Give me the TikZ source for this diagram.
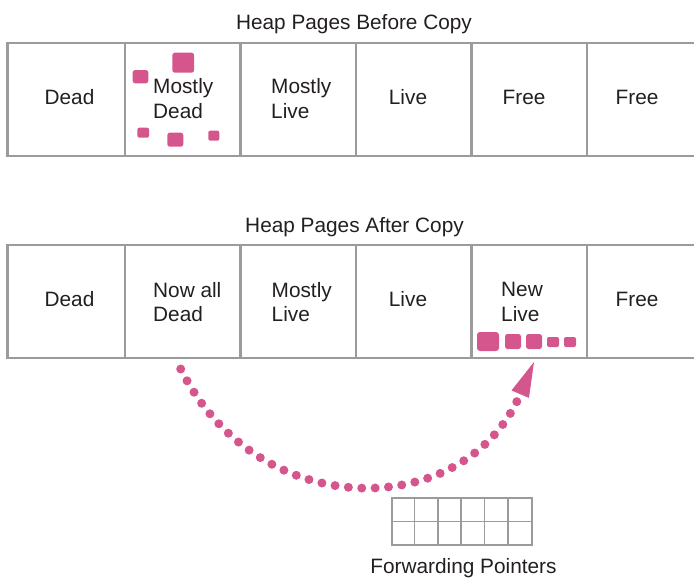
\documentclass[tikz,border=0pt]{standalone}
\usepackage{fontspec}
\setmainfont{Liberation Sans}
\usetikzlibrary{arrows.meta}
\definecolor{framegray}{RGB}{155,155,155}
\definecolor{heappink}{RGB}{213,86,140}
\definecolor{inkc}{RGB}{35,31,32}
\begin{document}
\begin{tikzpicture}[x=1pt,y=-1pt,
  page/.style={draw=framegray,line width=2.5pt,minimum height=113pt,inner sep=0pt,anchor=center},
  txt/.style={text=inkc,font=\fontsize{20.8}{24.5}\selectfont,inner sep=0pt},
  twoline/.style={txt,align=left,anchor=west},
  oneline/.style={txt,anchor=base},
  obj/.style={fill=heappink,draw=none,rounded corners=2.5pt,inner sep=0pt},
  gridln/.style={draw=framegray,line width=1.8pt},
  fwdarrow/.style={heappink,line width=9pt,line cap=round,dash pattern=on 0pt off 13.4pt,
    -{Triangle[length=35pt,width=19pt,line width=0pt]}}
]
\useasboundingbox (0,0) rectangle (694,578);
\clip (0,0) rectangle (694,578);

% page rows (before / after)
\foreach \l/\r/\n in {7.5/125/1,125/240.5/2,240.5/356/3,356/471.5/4,471.5/587/5,587/702.5/6}{
  \node[page,minimum width={(\r-\l)*1pt}] (top\n) at ({(\l+\r)/2},99.5) {};
  \node[page,minimum width={(\r-\l)*1pt}] (bot\n) at ({(\l+\r)/2},301.5) {};
}

% titles
\node[oneline] (ttop) at (354,30) {Heap Pages Before Copy};
\node[oneline] (tbot) at (354.5,232) {Heap Pages After Copy};

% labels, before copy
\node[oneline] (lt1) at (69.5,105) {Dead};
\node[twoline] (lt2) at (153,98.8) {Mostly\\Dead};
\node[twoline] (lt3) at (271,98.8) {Mostly\\Live};
\node[oneline] (lt4) at (408,105) {Live};
\node[oneline] (lt5) at (524,105) {Free};
\node[oneline] (lt6) at (637,105) {Free};

% labels, after copy
\node[oneline] (lb1) at (69.5,306.7) {Dead};
\node[twoline] (lb2) at (153,302) {Now all\\Dead};
\node[twoline] (lb3) at (271.5,302) {Mostly\\Live};
\node[oneline] (lb4) at (408,306.7) {Live};
\node[twoline] (lb5) at (501,302) {New\\Live};
\node[oneline] (lb6) at (637,306.7) {Free};

% scattered live objects in the mostly dead page
\node[obj,minimum width=21.7pt,minimum height=20pt] (o1) at (183.2,62.7) {};
\node[obj,minimum width=15.6pt,minimum height=13.3pt] (o2) at (140.5,76.7) {};
\node[obj,minimum width=11.7pt,minimum height=10pt,rounded corners=2pt] (o3) at (143.2,132.7) {};
\node[obj,minimum width=16pt,minimum height=14pt] (o4) at (175.3,139.7) {};
\node[obj,minimum width=11pt,minimum height=10pt,rounded corners=2pt] (o5) at (213.8,135.7) {};

% compacted objects in the new page
\node[obj,minimum width=22pt,minimum height=19pt,rounded corners=3pt] (n1) at (488,341.5) {};
\node[obj,minimum width=16pt,minimum height=15pt] (n2) at (513,341.5) {};
\node[obj,minimum width=16pt,minimum height=15pt] (n3) at (534,341.5) {};
\node[obj,minimum width=12pt,minimum height=10pt,rounded corners=2pt] (n4) at (553,342) {};
\node[obj,minimum width=12pt,minimum height=10pt,rounded corners=2pt] (n5) at (570,342) {};

% copy arrow
\coordinate (src) at (180.7,369);
\coordinate (dst) at (534,362);
\draw[fwdarrow] (src) .. controls (259.4,526) and (466,521) .. (dst);

% forwarding pointer table
\node[draw=framegray,line width=1.8pt,minimum width=140pt,minimum height=47pt,inner sep=0pt] (fwd) at (462,521.5) {};
\foreach \i in {1,...,5}{
  \draw[gridln] ([xshift=\i*23.333pt]fwd.north west) -- ([xshift=\i*23.333pt]fwd.south west);
}
\draw[gridln] (fwd.west) -- (fwd.east);
\node[oneline] (fwdlbl) at (463.5,573) {Forwarding Pointers};
\end{tikzpicture}
\end{document}
